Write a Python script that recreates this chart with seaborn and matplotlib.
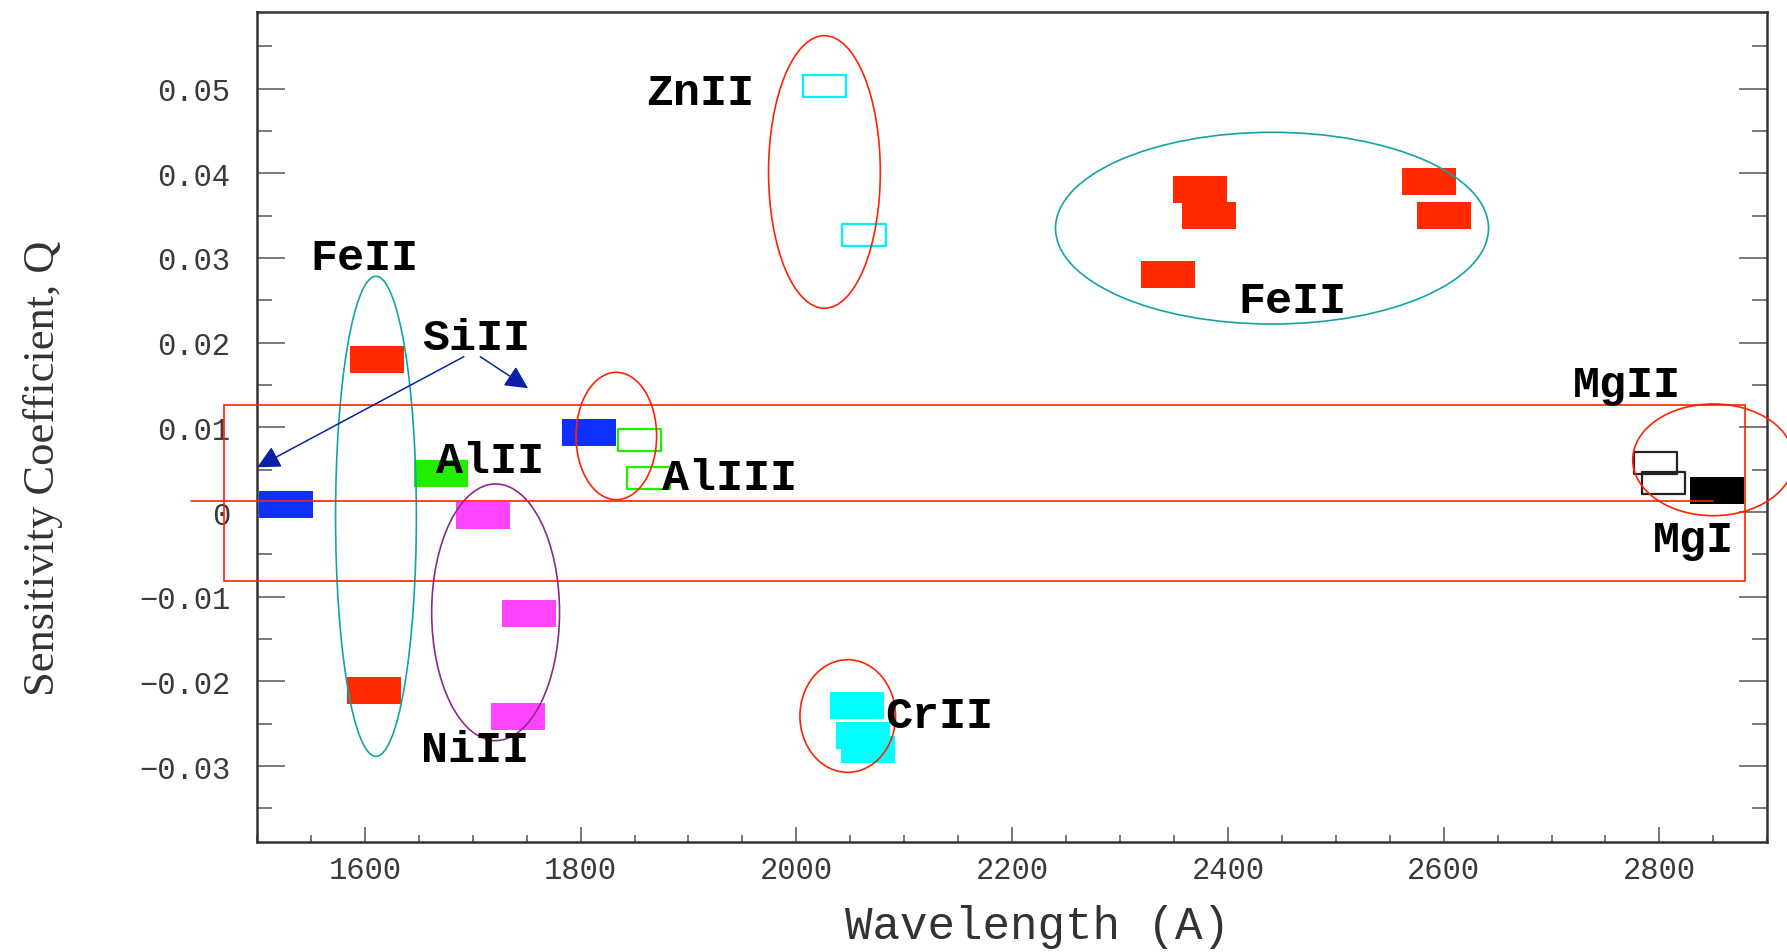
import matplotlib
matplotlib.use("Agg")
import matplotlib.pyplot as plt
from matplotlib.patches import Ellipse, Rectangle
from matplotlib.path import Path
from matplotlib.ticker import MultipleLocator
import pandas as pd
import seaborn as sns

# ---------------------------------------------------------------------------
# Absorption lines: rest wavelength (Angstrom) and sensitivity coefficient Q
# ---------------------------------------------------------------------------
filled_ion = ["SiII", "SiII", "FeII", "FeII", "AlII", "NiII", "NiII", "NiII",
              "CrII", "CrII", "CrII", "FeII", "FeII", "FeII", "FeII", "FeII",
              "MgI"]
filled_wavelength = [1526.7, 1808.0, 1608.5, 1611.2, 1670.8, 1709.6, 1741.5,
                     1751.9, 2056.3, 2062.2, 2066.2, 2344.2, 2374.5, 2382.8,
                     2586.7, 2600.2, 2853.0]
filled_q = [0.0009, 0.0094, -0.0211, 0.0180, 0.0045, -0.0004, -0.0241,
            -0.0120, -0.0229, -0.0264, -0.0281, 0.0280, 0.0381, 0.0350,
            0.0390, 0.0350, 0.0025]

open_ion = ["AlIII", "AlIII", "ZnII", "ZnII", "MgII", "MgII"]
open_wavelength = [1854.7, 1862.8, 2026.1, 2062.7, 2796.4, 2803.5]
open_q = [0.0085, 0.0040, 0.0503, 0.0327, 0.0058, 0.0034]

ion_colors = {
    "SiII": "#1030ff",
    "FeII": "#ff2a00",
    "AlII": "#22ee00",
    "AlIII": "#22ee00",
    "NiII": "#ff44ff",
    "ZnII": "#00f0ff",
    "CrII": "#00ffff",
    "MgII": "#222222",
    "MgI": "#000000",
}

x_ticks = [1600, 1800, 2000, 2200, 2400, 2600, 2800]
x_tick_labels = ["1600", "1800", "2000", "2200", "2400", "2600", "2800"]
y_ticks = [-0.03, -0.02, -0.01, 0.0, 0.01, 0.02, 0.03, 0.04, 0.05]
y_tick_labels = ["\u22120.03", "\u22120.02", "\u22120.01", "0", "0.01",
                 "0.02", "0.03", "0.04", "0.05"]

x_label = "Wavelength (A)"
y_label = "Sensitivity Coefficient, Q"

filled = pd.DataFrame({"ion": filled_ion, "wavelength": filled_wavelength,
                       "q": filled_q})
hollow = pd.DataFrame({"ion": open_ion, "wavelength": open_wavelength,
                       "q": open_q})

# ---------------------------------------------------------------------------
sns.set_theme(style="ticks")
plt.rcParams["font.family"] = ["Liberation Mono", "DejaVu Sans"]
plt.rcParams["axes.unicode_minus"] = True

fig = plt.figure(figsize=(17.87, 9.53), dpi=100, facecolor="white")
ax = fig.add_axes([0.1438, 0.1151, 0.98898 - 0.1438, 0.98604 - 0.1151])
ax.set_facecolor("white")

# 2:1 rectangle used as the line marker
rect_marker = Path([(-1, -0.5), (1, -0.5), (1, 0.5), (-1, 0.5), (-1, -0.5)],
                   closed=True)

sns.scatterplot(data=filled, x="wavelength", y="q", hue="ion",
                palette=ion_colors, marker=rect_marker, s=1512,
                linewidth=0, edgecolor="none", legend=False, ax=ax, zorder=3)

sns.scatterplot(data=hollow, x="wavelength", y="q", hue="ion",
                palette=ion_colors, marker=rect_marker, s=961,
                linewidth=1.6, legend=False, ax=ax, zorder=3)
hollow_pts = ax.collections[-1]
hollow_pts.set_edgecolors(hollow_pts.get_facecolors())
hollow_pts.set_facecolors("none")

# Axes ranges, ticks and frame
ax.set_xlim(1500, 2900)
ax.set_ylim(-0.039, 0.059)
ax.set_xticks(x_ticks)
ax.set_xticklabels(x_tick_labels)
ax.set_yticks(y_ticks)
ax.set_yticklabels(y_tick_labels)
ax.xaxis.set_minor_locator(MultipleLocator(50))
ax.yaxis.set_minor_locator(MultipleLocator(0.005))

tick_gray = "#3a3a3a"
ax.tick_params(axis="y", which="major", direction="in", length=20, width=1.1,
               color="#555555", left=True, right=True, pad=19,
               labelsize=22, labelcolor=tick_gray)
ax.tick_params(axis="y", which="minor", direction="in", length=10.5,
               width=1.1, color="#555555", left=True, right=True)
ax.tick_params(axis="x", which="major", direction="in", length=11, width=1.1,
               color="#555555", bottom=True, top=False, pad=9,
               labelsize=22, labelcolor=tick_gray)
ax.tick_params(axis="x", which="minor", direction="in", length=5, width=1.1,
               color="#555555", bottom=True, top=False)
for lab in ax.get_xticklabels() + ax.get_yticklabels():
    lab.set_fontfamily(["Liberation Mono", "DejaVu Sans"])

for side in ["left", "right", "top", "bottom"]:
    ax.spines[side].set_visible(True)
    ax.spines[side].set_color("#333333")
    ax.spines[side].set_linewidth(1.8)

ax.set_xlabel(x_label, fontsize=33, color="#333333",
              fontfamily=["Liberation Mono", "DejaVu Sans"])
ax.set_ylabel(y_label, fontsize=32, color="#333333",
              fontfamily=["Liberation Serif", "DejaVu Serif"])
ax.xaxis.set_label_coords(0.5166, -0.0745)
ax.yaxis.set_label_coords(-0.1285, 0.452)

# ---------------------------------------------------------------------------
# Group outlines, highlight box and labels
red = "#ff2200"
teal = "#14a3a3"
purple = "#8b2a8b"
outline_lw = 1.2

group_outlines = [
    ((1610.3, -0.00051), 74.9, 0.05668, teal),
    ((1721.2, -0.01184), 118.5, 0.03031, purple),
    ((2026.0, 0.04015), 103.6, 0.03219, red),
    ((2440.9, 0.03351), 401.4, 0.02264, teal),
    ((1833.1, 0.00897), 74.7, 0.01504, red),
    ((2047.6, -0.02409), 88.6, 0.0133, red),
    ((2849.9, 0.00616), 149.3, 0.01319, red),
]
for center, w, h, col in group_outlines:
    ax.add_patch(Ellipse(center, w, h, fill=False, edgecolor=col,
                         linewidth=outline_lw, clip_on=False, zorder=5))

ax.add_patch(Rectangle((1469.4, -0.00811), 2879.3 - 1469.4, 0.01267 + 0.00811,
                       fill=False, edgecolor=red, linewidth=outline_lw,
                       clip_on=False, zorder=5))
ax.plot([1439.2, 2849.9], [0.00133, 0.00133], color=red, linewidth=outline_lw,
        clip_on=False, zorder=5)

ion_labels = [
    ("ZnII", 1910.6, 0.04818),
    ("FeII", 1599.2, 0.02869),
    ("SiII", 1703.0, 0.01925),
    ("AlII", 1716.0, 0.00472),
    ("NiII", 1702.1, -0.0294),
    ("AlIII", 1937.6, 0.00272),
    ("CrII", 2132.3, -0.02539),
    ("FeII", 2459.6, 0.02362),
    ("MgII", 2770.2, 0.0137),
    ("MgI", 2831.4, -0.0046),
]
for text, lx, ly in ion_labels:
    ax.text(lx, ly, text, ha="center", va="baseline", fontsize=32.4,
            fontweight="bold", color="black",
            fontfamily=["Liberation Mono", "DejaVu Sans Mono"],
            clip_on=False, zorder=6)

arrow_blue = "#0b20a8"
for start, tip in [((1691.7, 0.01834), (1500.2, 0.00528)),
                   ((1707.0, 0.01834), (1751.3, 0.01461))]:
    ax.annotate("", xy=tip, xytext=start,
                arrowprops=dict(arrowstyle="-|>,head_length=0.7,head_width=0.35",
                                mutation_scale=20, color=arrow_blue,
                                linewidth=1.1, shrinkA=0, shrinkB=0),
                annotation_clip=False, zorder=6)

fig.savefig("out.png", dpi=100, facecolor="white")
